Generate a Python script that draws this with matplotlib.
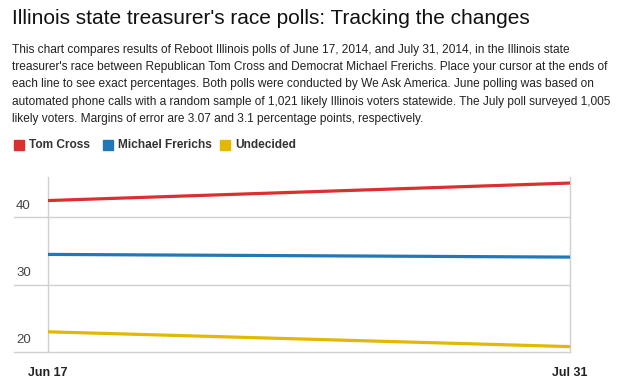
import matplotlib.pyplot as plt
import matplotlib.transforms as mtransforms
from matplotlib.patches import Rectangle

# data
dates = ["Jun 17", "Jul 31"]
tom_cross = [42.5, 45.1]
michael_frerichs = [34.5, 34.1]
undecided = [23.0, 20.8]
series_names = ["Tom Cross", "Michael Frerichs", "Undecided"]
y_ticks = [20, 30, 40]

RED = '#dc2f2f'
BLUE = '#2377b4'
YELLOW = '#e2b900'
colors = [RED, BLUE, YELLOW]

title = "Illinois state treasurer's race polls: Tracking the changes"
subtitle = ("This chart compares results of Reboot Illinois polls of June 17, 2014, and July 31, 2014, in the Illinois state\n"
            "treasurer's race between Republican Tom Cross and Democrat Michael Frerichs. Place your cursor at the ends of\n"
            "each line to see exact percentages. Both polls were conducted by We Ask America. June polling was based on\n"
            "automated phone calls with a random sample of 1,021 likely Illinois voters statewide. The July poll surveyed 1,005\n"
            "likely voters. Margins of error are 3.07 and 3.1 percentage points, respectively.")

plt.rcParams['font.family'] = ['Liberation Sans', 'DejaVu Sans']

W, H = 628, 389
fig = plt.figure(figsize=(W / 100, H / 100), dpi=100)

# pixel helpers
def fx(px):
    return px / W

def fy(py):
    return 1 - py / H

fig.text(fx(12), fy(18), title, fontsize=15, color='#111', va='center', ha='left')
fig.text(fx(12), fy(44), subtitle, fontsize=8.6, color='#222', va='top', ha='left',
         linespacing=1.58)

# legend
legend_x = [14, 103, 220]
for name, c, lx in zip(series_names, colors, legend_x):
    fig.patches.append(Rectangle((fx(lx), fy(150)), 10 / W, 10 / H, color=c,
                                 transform=fig.transFigure, figure=fig))
    fig.text(fx(lx + 15), fy(145), name, fontsize=8.6, fontweight='bold',
             color='#333', va='center', ha='left')

# plot area: left 14px, right 570px, top 177px, bottom 352px
ax = fig.add_axes([fx(14), fy(352), (570 - 14) / W, (352 - 177) / H])
x = [0, 1]
a = 34 / 556 / (1 - 34 / 556)
ax.set_xlim(-a, 1)
ax.set_ylim(20, 46)

for yv in y_ticks:
    ax.axhline(yv, color='#d0d0d0', lw=1, zorder=1, clip_on=False)
ax.axvline(0, color='#d0d0d0', lw=1, zorder=1, clip_on=False)
ax.axvline(1, color='#d0d0d0', lw=1, zorder=1, clip_on=False)

for vals, c in zip([tom_cross, michael_frerichs, undecided], colors):
    ax.plot(x, vals, color=c, lw=2.3, solid_capstyle='butt', zorder=3, clip_on=False)

trans = mtransforms.blended_transform_factory(ax.transAxes, ax.transData)
for yv in y_ticks:
    ax.annotate(str(yv), (0, yv), xycoords=trans, xytext=(1.5, 4), textcoords='offset points',
                fontsize=9.5, color='#444', ha='left', va='bottom')

for xi, lab in zip(x, dates):
    ax.annotate(lab, (xi, 20), xycoords='data', xytext=(0, -11), textcoords='offset points',
                fontsize=9, fontweight='bold', color='#222', ha='center', va='top',
                annotation_clip=False)

ax.set_xticks([])
ax.set_yticks([])
for s in ax.spines.values():
    s.set_visible(False)

fig.savefig('out.png', dpi=100)
